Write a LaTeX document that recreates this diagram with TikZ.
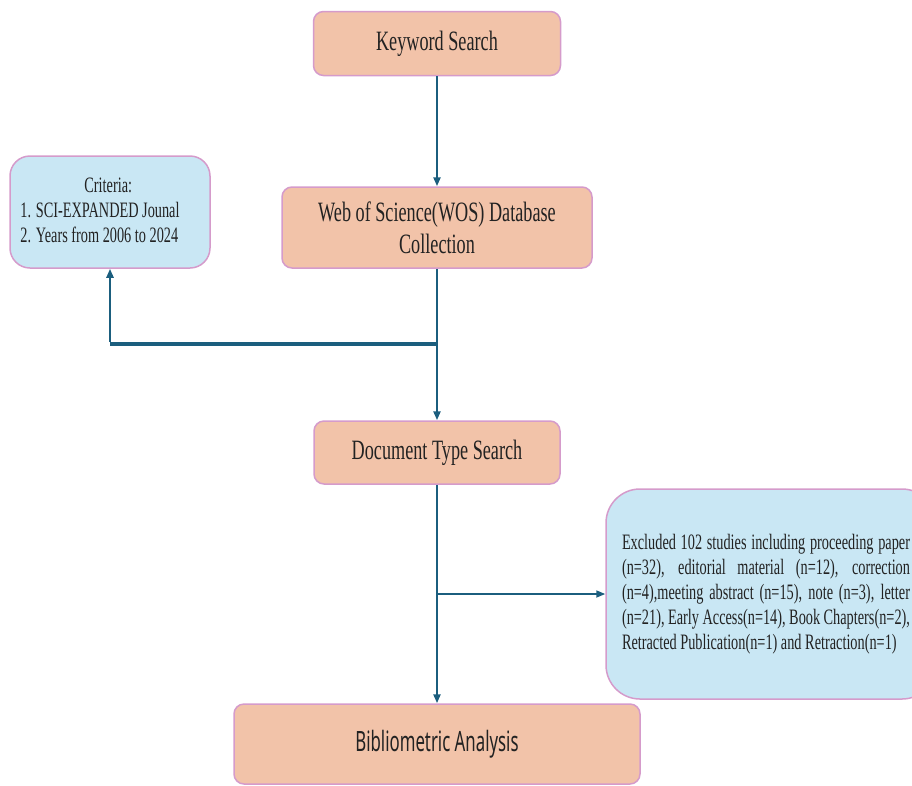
\documentclass[tikz,border=0pt]{standalone}
\usepackage{fontspec}
\usetikzlibrary{arrows.meta}
\newfontfamily\nserif[FakeStretch=0.65]{Liberation Serif}
\newfontfamily\nsans[FakeStretch=0.6]{Noto Sans}
\definecolor{peach}{HTML}{F2C3A9}
\definecolor{skyb}{HTML}{C9E7F4}
\definecolor{pinkb}{HTML}{D59BCB}
\definecolor{flow}{HTML}{1B5E7E}
\definecolor{ink}{HTML}{222222}
\tikzset{
  pbox/.style={draw=pinkb,line width=1.5pt,fill=peach,rounded corners=10pt,text=ink,align=center,inner sep=0pt},
  bbox/.style={draw=pinkb,line width=1.5pt,fill=skyb,text=ink,align=center,inner sep=0pt},
  bigserif/.style={font=\nserif\fontsize{28pt}{32pt}\selectfont},
  smallserif/.style={font=\nserif\fontsize{22pt}{25pt}\selectfont},
  flowline/.style={draw=flow,line width=2.6pt},
  flowarrow/.style={flowline,-{Triangle[length=9pt,width=7pt]}},
}
\begin{document}
\begin{tikzpicture}[x=1pt,y=-1pt]
\useasboundingbox (0,0) rectangle (912,785);
\node[pbox,bigserif,minimum width=247pt,minimum height=64pt] (kw) at (437,43.5)
  {Keyword Search};
\node[pbox,bigserif,minimum width=310pt,minimum height=81pt] (wos) at (437,227.5)
  {Web of Science(WOS) Database\\Collection};
\node[bbox,smallserif,rounded corners=20pt,minimum width=200pt,minimum height=112pt] (crit) at (110,212)
  {\begin{tabular}{@{}l@{}}
   \hspace*{64pt}Criteria:\\
   1. SCI-EXPANDED Jounal\\
   2. Years from 2006 to 2024
   \end{tabular}\hspace*{20pt}};
\node[pbox,bigserif,minimum width=246pt,minimum height=63pt] (doc) at (437,452.5)
  {Document Type Search};
\node[bbox,smallserif,rounded corners=34pt,minimum height=210pt] (exc) at (771,594)
  {\hspace*{16pt}\begin{tabular}{@{}l@{}}
   \makebox[288pt][s]{Excluded 102 studies including proceeding paper}\\
   \makebox[288pt][s]{(n=32), editorial material (n=12), correction}\\
   \makebox[288pt][s]{(n=4),meeting abstract (n=15), note (n=3), letter}\\
   \makebox[288pt][s]{(n=21), Early Access(n=14), Book Chapters(n=2),}\\
   Retracted Publication(n=1) and Retraction(n=1)
   \end{tabular}\hspace*{26pt}};
\node[pbox,font=\nsans\fontsize{28pt}{32pt}\selectfont,minimum width=406pt,minimum height=80pt] (bib) at (437,744)
  {Bibliometric Analysis};
\coordinate (j1) at (437,344);
\coordinate (j2) at (437,594);
\draw[flowarrow] (kw.south) -- (wos.north);
\draw[flowline] (wos.south) -- (j1);
\draw[flowline,line width=3.6pt] (j1) -- (j1 -| crit.south);
\draw[flowarrow,line width=2.2pt] ([yshift=1.8pt]j1 -| crit.south) -- (crit.south);
\draw[flowarrow] (j1) -- (doc.north);
\draw[flowarrow] (doc.south) -- (bib.north);
\draw[flowarrow,line width=1.6pt] (j2) -- (exc.west);
\end{tikzpicture}
\end{document}
